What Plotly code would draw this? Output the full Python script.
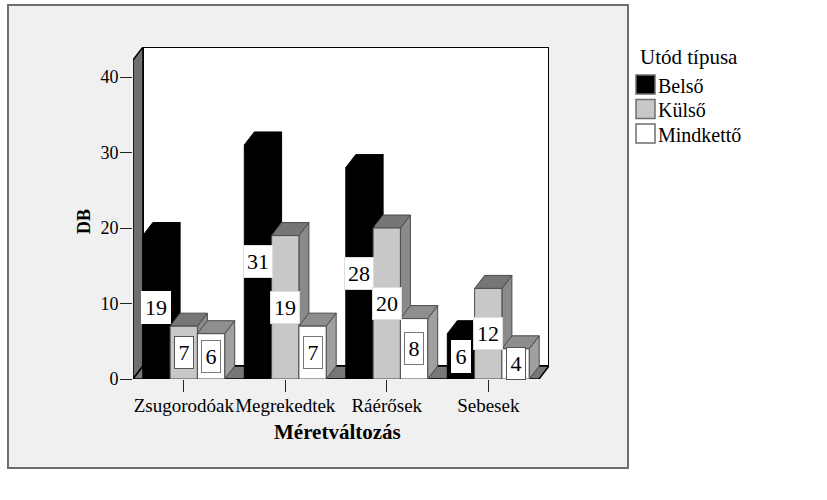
import plotly.graph_objects as go

# data
categories = ["Zsugorodóak", "Megrekedtek", "Ráérősek", "Sebesek"]
belso = [19, 31, 28, 6]
kulso = [7, 19, 20, 12]
mindketto = [6, 7, 8, 4]
yticks = [0, 10, 20, 30, 40]

series_names = ["Belső", "Külső", "Mindkettő"]
series_values = [belso, kulso, mindketto]
front_colors = ["#000000", "#c8c8c8", "#ffffff"]
side_colors = ["#000000", "#8a8a8a", "#a0a0a0"]
top_colors = ["#000000", "#767676", "#8e8e8e"]
line_colors = ["#000000", "#4a4a4a", "#4a4a4a"]
label_borders = [
    ["#ffffff", "#dddddd", "#dddddd", "#ffffff"],
    ["#555555", "#dddddd", "#dddddd", "#dddddd"],
    ["#777777", "#777777", "#777777", "#555555"],
]

FONT = "Liberation Serif"

# plot area in pixels, the axes are mapped on it
L, R, T, B = 133, 549, 47, 379
PX_X = 101.5          # pixels per category
PX_Y = 7.55           # pixels per DB
DX = 10 / PX_X        # depth of the fake 3d
DY = 13 / PX_Y
BAR_W = 27.3 / PX_X
X0 = -0.5
Y_TOP = (B - T) / PX_Y
X_END = X0 + (R - L) / PX_X
FLOOR_END = X0 + (R - 10 - L) / PX_X


def poly(points, fill, line="#000000", width=1):
    path = "M " + " L ".join(f"{x},{y}" for x, y in points) + " Z"
    return dict(type="path", path=path, xref="x", yref="y", layer="below",
                fillcolor=fill, line=dict(color=line, width=width))


def paper_x(px):
    return (px - L) / (R - L)


def paper_y(py):
    return (B - py) / (B - T)


def text_at(px, py, text, size, xanchor="center", **kw):
    return dict(x=paper_x(px), y=paper_y(py), xref="paper", yref="paper", text=text,
                xanchor=xanchor, yanchor="middle", showarrow=False,
                font=dict(family=FONT, size=size, color="#000000"), **kw)


fig = go.Figure()

shapes = []
# grey panel behind the chart
shapes.append(dict(type="rect", xref="paper", yref="paper", layer="below",
                   x0=paper_x(8), x1=paper_x(628), y0=paper_y(468), y1=paper_y(5),
                   fillcolor="#f0f0f0", line=dict(color="#6e6e6e", width=2)))
# back wall, left wall, floor
shapes.append(poly([(X0 + DX, DY), (X_END, DY), (X_END, Y_TOP), (X0 + DX, Y_TOP)], "#ffffff", width=2))
shapes.append(poly([(X0, 0), (X0 + DX, DY), (X0 + DX, Y_TOP), (X0, Y_TOP - DY)], "#6e6e6e", width=1.5))
shapes.append(poly([(X0, 0), (FLOOR_END, 0), (X_END, DY), (X0 + DX, DY)], "#777777", width=1.5))

# sides and tops of the bars, they stay under the bar traces
for c in range(len(categories)):
    for s in range(len(series_names)):
        v = series_values[s][c]
        x0 = c + (s - 1.5) * BAR_W
        x1 = x0 + BAR_W
        shapes.append(poly([(x1, 0), (x1 + DX, DY), (x1 + DX, v + DY), (x1, v)],
                           side_colors[s], line_colors[s]))
        shapes.append(poly([(x0, v), (x1, v), (x1 + DX, v + DY), (x0 + DX, v + DY)],
                           top_colors[s], line_colors[s]))

for s in range(len(series_names)):
    fig.add_bar(x=list(range(len(categories))), y=series_values[s], name=series_names[s],
                marker=dict(color=front_colors[s], line=dict(color=line_colors[s], width=1)),
                showlegend=False, hoverinfo="skip")

# white value boxes
annotations = []
for c in range(len(categories)):
    for s in range(len(series_names)):
        v = series_values[s][c]
        annotations.append(dict(
            x=c + (s - 1) * BAR_W, y=v / 2, xref="x", yref="y", text=str(v),
            showarrow=False, font=dict(family=FONT, size=22, color="#000000"),
            bgcolor="#ffffff", bordercolor=label_borders[s][c], borderwidth=1, borderpad=0,
            width=28 if v >= 10 else 18, height=31, align="center", valign="middle"))

# axis titles sit off centre in the original
annotations.append(text_at(337, 432, "<b>Méretváltozás</b>", 21))
annotations.append(text_at(84, 222, "<b>DB</b>", 18, textangle=-90))

# legend drawn by hand, the plotly one cannot put the text this close to the swatch
annotations.append(text_at(638, 57, "Utód típusa", 21, xanchor="left"))
swatch_tops = [75, 99.5, 124]
for s in range(len(series_names)):
    shapes.append(dict(type="rect", xref="paper", yref="paper",
                       x0=paper_x(636), x1=paper_x(655),
                       y0=paper_y(swatch_tops[s] + 19), y1=paper_y(swatch_tops[s]),
                       fillcolor=front_colors[s], line=dict(color="#6e6e6e", width=1.5)))
    annotations.append(text_at(656, swatch_tops[s] + 10.5, series_names[s], 20, xanchor="left"))

fig.update_layout(
    width=827, height=500, autosize=False,
    margin=dict(l=L, r=827 - R, t=T, b=500 - B, pad=0),
    paper_bgcolor="#ffffff", plot_bgcolor="rgba(0,0,0,0)",
    barmode="group", bargap=1 - 3 * BAR_W, bargroupgap=0,
    shapes=shapes, annotations=annotations, showlegend=False,
    font=dict(family=FONT, color="#000000"),
    xaxis=dict(range=[X0, X_END], tickmode="array", tickvals=list(range(len(categories))),
               ticktext=categories, ticks="outside", ticklen=12, tickwidth=1, tickcolor="#222222",
               tickfont=dict(family=FONT, size=19), tickangle=0, showgrid=False, zeroline=False,
               showline=False, ticklabelstandoff=-3),
    yaxis=dict(range=[0, Y_TOP], tickmode="array", tickvals=yticks,
               ticks="outside", ticklen=12, tickwidth=1, tickcolor="#222222",
               tickfont=dict(family=FONT, size=18), showgrid=False, zeroline=False, showline=False,
               ticklabelstandoff=-2),
)

fig.write_html("out.html", config=dict(displayModeBar=False),
               post_script="document.body.style.margin='0';")
